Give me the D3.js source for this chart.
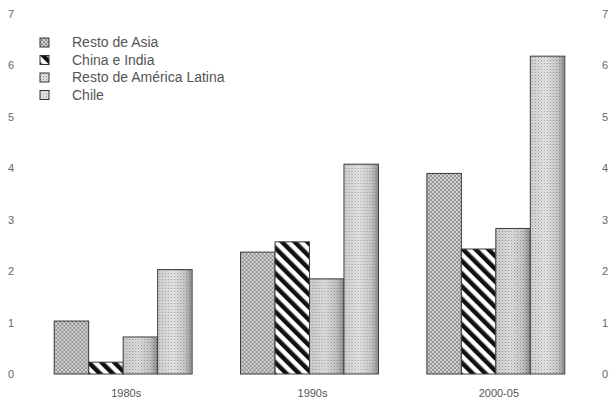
<!DOCTYPE html>
<html>
<head>
<meta charset="utf-8">
<script src="https://cdn.jsdelivr.net/npm/d3@7"></script>
<style>
  body { margin: 0; background: #fff; }
  svg { display: block; font-family: "Liberation Sans", Arial, sans-serif; }
</style>
</head>
<body>
<div id="chart"></div>
<script>
// Data
const periods = ['1980s', '1990s', '2000-05'];
const series = ['Resto de Asia', 'China e India', 'Resto de América Latina', 'Chile'];
const restoAsia = [1.03, 2.37, 3.9];
const chinaIndia = [0.23, 2.57, 2.43];
const restoAL = [0.72, 1.85, 2.83];
const chile = [2.03, 4.08, 6.18];
const yTicks = [0, 1, 2, 3, 4, 5, 6, 7];

const values = [restoAsia, chinaIndia, restoAL, chile];
const patternIds = ['p-asia', 'p-china', 'p-al', 'p-chile'];

const width = 610, height = 409;
const svg = d3.select('#chart').append('svg')
    .attr('width', width)
    .attr('height', height);

// Patterns (imitating the halftone fills of the scan)
const defs = svg.append('defs');

const asia = defs.append('pattern')
    .attr('id', 'p-asia').attr('patternUnits', 'userSpaceOnUse')
    .attr('width', 4).attr('height', 4);
asia.append('rect').attr('width', 4).attr('height', 4).attr('fill', '#d4d4d4');
asia.append('path').attr('d', 'M0,0 L4,4 M4,0 L0,4')
    .attr('stroke', '#8a8a8a').attr('stroke-width', 0.9);

const china = defs.append('pattern')
    .attr('id', 'p-china').attr('patternUnits', 'userSpaceOnUse')
    .attr('width', 9).attr('height', 9)
    .attr('patternTransform', 'rotate(-45)');
china.append('rect').attr('width', 9).attr('height', 9).attr('fill', '#fff');
china.append('rect').attr('width', 4.5).attr('height', 9).attr('fill', '#111');

const al = defs.append('pattern')
    .attr('id', 'p-al').attr('patternUnits', 'userSpaceOnUse')
    .attr('width', 3).attr('height', 3);
al.append('rect').attr('width', 3).attr('height', 3).attr('fill', '#e2e2e2');
al.append('rect').attr('width', 1).attr('height', 1).attr('fill', '#8e8e8e');
al.append('rect').attr('x', 1.5).attr('y', 1.5).attr('width', 1).attr('height', 1).attr('fill', '#b0b0b0');

const chl = defs.append('pattern')
    .attr('id', 'p-chile').attr('patternUnits', 'userSpaceOnUse')
    .attr('width', 3).attr('height', 3);
chl.append('rect').attr('width', 3).attr('height', 3).attr('fill', '#e6e6e6');
chl.append('rect').attr('width', 1).attr('height', 1).attr('fill', '#9a9a9a');
chl.append('rect').attr('x', 1.5).attr('y', 1.5).attr('width', 1).attr('height', 1).attr('fill', '#c0c0c0');

const shade = defs.append('linearGradient').attr('id', 'g-shade');
shade.append('stop').attr('offset', '0%').attr('stop-color', '#000').attr('stop-opacity', 0.08);
shade.append('stop').attr('offset', '45%').attr('stop-color', '#000').attr('stop-opacity', 0);
shade.append('stop').attr('offset', '80%').attr('stop-color', '#000').attr('stop-opacity', 0.12);
shade.append('stop').attr('offset', '100%').attr('stop-color', '#000').attr('stop-opacity', 0.35);

// Scales
const x = d3.scaleBand()
    .domain(periods)
    .range([30, 589])
    .paddingInner(0.26)
    .paddingOuter(0.13);

const xInner = d3.scaleBand()
    .domain(series)
    .range([0, x.bandwidth()]);

const y = d3.scaleLinear()
    .domain([0, 7])
    .range([374, 14]);

// Axes (labels only, both sides)
const leftAxis = svg.append('g')
    .attr('transform', 'translate(11,0)')
    .call(d3.axisLeft(y).tickValues(yTicks).tickFormat(d3.format('d')).tickSize(0).tickPadding(0));
const rightAxis = svg.append('g')
    .attr('transform', 'translate(605,0)')
    .call(d3.axisRight(y).tickValues(yTicks).tickFormat(d3.format('d')).tickSize(0).tickPadding(0));
[leftAxis, rightAxis].forEach(a => {
    a.select('.domain').remove();
    a.selectAll('text')
        .attr('text-anchor', 'middle')
        .style('font-size', '11px')
        .style('fill', '#666')
        .style('font-family', '"Liberation Sans", Arial, sans-serif');
});

// Bars
const groups = svg.append('g').selectAll('g')
    .data(periods)
    .join('g')
    .attr('transform', d => `translate(${x(d)},0)`);

groups.each(function(p, gi) {
    const g = d3.select(this);
    series.forEach((s, si) => {
        const v = values[si][gi];
        g.append('rect')
            .attr('x', xInner(s))
            .attr('y', y(v))
            .attr('width', xInner.bandwidth())
            .attr('height', y(0) - y(v))
            .attr('fill', `url(#${patternIds[si]})`)
            .attr('stroke', '#3a3a3a')
            .attr('stroke-width', 1);
        if (si === 3 || si === 2) {
            g.append('rect')
                .attr('x', xInner(s) + 0.5)
                .attr('y', y(v) + 0.5)
                .attr('width', xInner.bandwidth() - 1)
                .attr('height', y(0) - y(v) - 1)
                .attr('fill', 'url(#g-shade)');
        }
    });
});

// Category labels
const xAxis = svg.append('g')
    .attr('transform', `translate(0,${y(0) + 15})`)
    .call(d3.axisBottom(x).tickSize(0).tickPadding(0));
xAxis.select('.domain').remove();
xAxis.selectAll('text')
    .attr('dx', 3)
    .style('font-size', '11px')
    .style('fill', '#555')
    .style('font-family', '"Liberation Sans", Arial, sans-serif');

// Legend
const legend = svg.append('g').attr('transform', 'translate(40,38)');
series.forEach((s, i) => {
    const item = legend.append('g').attr('transform', `translate(0,${i * 17.5})`);
    item.append('rect')
        .attr('width', 9).attr('height', 9)
        .attr('fill', `url(#${patternIds[i]})`)
        .attr('stroke', '#333')
        .attr('stroke-width', 1);
    item.append('text')
        .attr('x', 32).attr('y', 9)
        .style('font-size', '14px')
        .style('fill', '#555')
        .text(s);
});
</script>
</body>
</html>
